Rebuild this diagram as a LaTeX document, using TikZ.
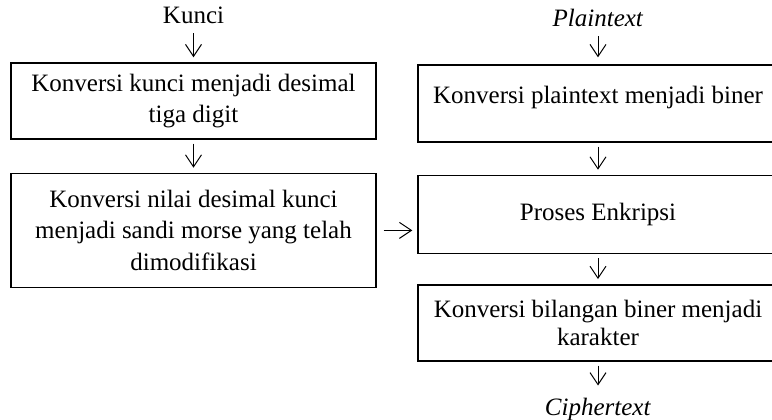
\documentclass[tikz,border=0pt]{standalone}
\usepackage{fontspec}
\setmainfont{Liberation Serif}
\usetikzlibrary{arrows.meta,positioning}

\begin{document}
\begin{tikzpicture}[x=1pt,y=-1pt,->,>={Straight Barb[length=12pt,width=16pt]},
    line width=1pt,shorten <=4pt,shorten >=5pt,
    font=\fontsize{25}{31.5}\selectfont,
    box/.style={draw,line width=1.4pt,align=center,inner sep=0pt},
    lbox/.style={box,minimum width=365pt},
    rbox/.style={box,minimum width=360pt},
    io/.style={inner sep=0pt,text height=17pt,text depth=5pt}]
      \useasboundingbox (0,0) rectangle (772,420);
      \clip (0,0) rectangle (772,420);
      % kiri
      \node[lbox,minimum height=76pt] (A) at (193.5,101) {Konversi kunci menjadi desimal\\tiga digit};
      \node[lbox,minimum height=114pt] (B) [below=33pt of A] {Konversi nilai desimal kunci\\menjadi sandi morse yang telah\\dimodifikasi};
      \node[io] (K) [above=33pt of A] {Kunci};
      % kanan
      \node[rbox,minimum height=77pt] (C) at (598,103.5) {Konversi plaintext menjadi biner\rule[-18pt]{0pt}{1pt}};
      \node[rbox,minimum height=78pt] (D) [below=32pt of C] {Proses Enkripsi};
      \node[rbox,minimum height=76pt] (E) [below=30pt of D] {Konversi bilangan biner menjadi\\[-3.5pt]karakter};
      \node[io] (P) [above=32pt of C] {\textit{Plaintext}};
      \node[io] (F) [below=36pt of E] {\textit{Ciphertext}};
      \path (K) edge (A)
      (A) edge (B)
      (P) edge[shorten >=7pt] (C)
      (C) edge (D)
      (D) edge (E)
      (E) edge[shorten >=12pt] (F)
      (B.east) edge[shorten <=7pt] (B.east -| D.west);
\end{tikzpicture}
\end{document}
